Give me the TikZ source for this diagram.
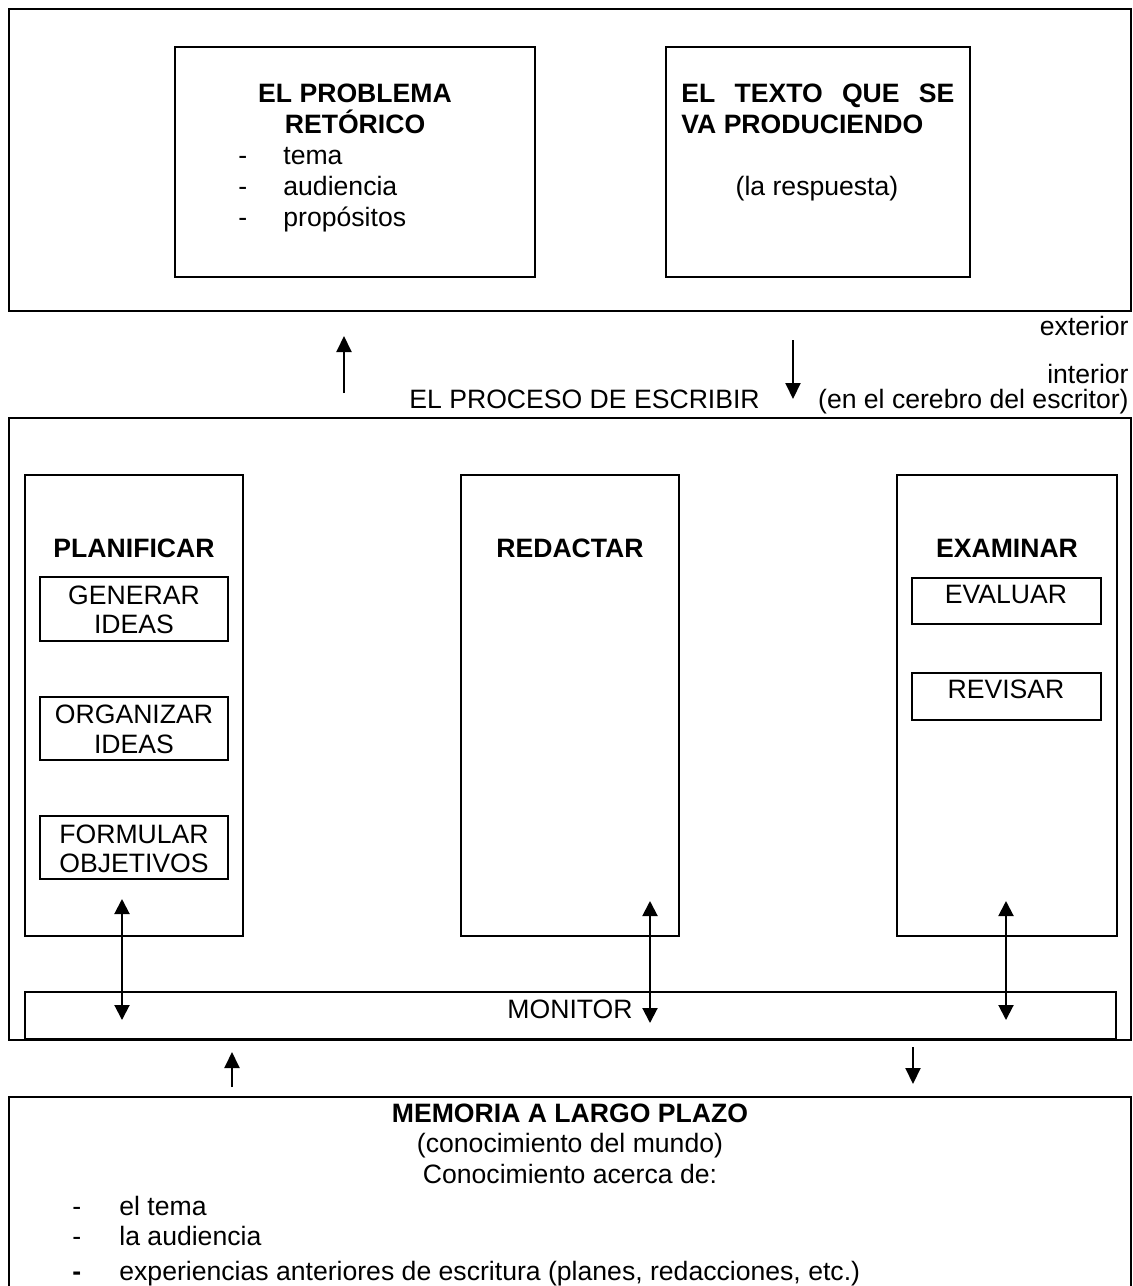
\documentclass[tikz,border=0pt]{standalone}
\usepackage{fontspec}
\setmainfont{Liberation Sans}
\usetikzlibrary{arrows.meta,fit}
\begin{document}
\begin{tikzpicture}[x=0.5pt,y=-0.5pt,
  box/.style={draw,line width=1pt,inner sep=0pt},
  obox/.style={draw,line width=1.2pt,inner sep=0pt},
  txt/.style={inner sep=0pt,anchor=base,font=\fontsize{13.3}{15.5}\selectfont},
  txtl/.style={txt,anchor=base west},
  txtr/.style={txt,anchor=base east},
  bold/.style={font=\fontsize{13.3}{15.5}\selectfont\bfseries},
  arr/.style={line width=1pt,-{Triangle[length=8pt,width=7.5pt]}},
  dbl/.style={line width=1pt,{Triangle[length=7.5pt,width=7.5pt]}-{Triangle[length=7.5pt,width=7.5pt]}}]
\useasboundingbox (0,0) rectangle (1133,1286);

% outer boxes
\node[obox,fit={(9,9) (1131,311)}] (exterior) {};
\node[obox,fit={(9,418) (1131,1040)}] (proceso) {};
\node[obox,fit={(9,1097) (1131,1320)}] (memoria) {};

% top inner boxes
\node[box,fit={(175,47) (535,277)}] (problema) {};
\node[box,fit={(666,47) (970,277)}] (texto) {};

\node[txt,bold] (p1) at (355,102) {EL PROBLEMA};
\node[txt,bold] (p2) at (355,133) {RETÓRICO};
\node[txtl] (pd1) at (238,164) {-};
\node[txtl] (pt1) at (283,164) {tema};
\node[txtl] (pd2) at (238,195) {-};
\node[txtl] (pt2) at (283,195) {audiencia};
\node[txtl] (pd3) at (238,226) {-};
\node[txtl] (pt3) at (283,226) {propósitos};

\node[txtl,bold] (x1) at (681,102) {\makebox[136.5pt][l]{EL\hfill TEXTO\hfill QUE\hfill SE}};
\node[txtl,bold] (x2) at (681,133) {VA PRODUCIENDO};
\node[txt] (x3) at (817,195) {(la respuesta)};

% labels between
\node[txtr] (lext) at (1129,335) {exterior};
\node[txtr] (lint) at (1129,383) {interior};
\node[txtr] (lcer) at (1129,408) {(en el cerebro del escritor)};
\node[txtl] (lproc) at (409,408) {EL PROCESO DE ESCRIBIR};

% arrows between top and middle
\coordinate (a1s) at (344,393);
\coordinate (a1e) at (344,336);
\coordinate (a2s) at (793,340);
\coordinate (a2e) at (793,399);
\draw[arr] (a1s) -- (a1e);
\draw[arr] (a2s) -- (a2e);

% columns
\node[box,fit={(25,475) (243,936)}] (planificar) {};
\node[box,fit={(461,475) (679,936)}] (redactar) {};
\node[box,fit={(897,475) (1117,936)}] (examinar) {};

\node[txt,bold] (tplan) at (134,557) {PLANIFICAR};
\node[txt,bold] (tred) at (570,557) {REDACTAR};
\node[txt,bold] (texa) at (1007,557) {EXAMINAR};

\node[box,fit={(40,577) (228,641)}] (generar) {};
\node[box,fit={(40,697) (228,760)}] (organizar) {};
\node[box,fit={(40,816) (228,879)}] (formular) {};
\node[txt] (g1) at (134,604) {GENERAR};
\node[txt] (g2) at (134,633) {IDEAS};
\node[txt] (o1) at (134,723) {ORGANIZAR};
\node[txt] (o2) at (134,753) {IDEAS};
\node[txt] (f1) at (134,843) {FORMULAR};
\node[txt] (f2) at (134,872) {OBJETIVOS};

\node[box,fit={(912,578) (1101,624)}] (evaluar) {};
\node[box,fit={(912,673) (1101,720)}] (revisar) {};
\node[txt] (e1) at (1006,603) {EVALUAR};
\node[txt] (r1) at (1006,698) {REVISAR};

% monitor
\node[box,fit={(25,992) (1116,1039)}] (monitor) {};
\node[txt] (tmon) at (570,1018) {MONITOR};

% double arrows
\coordinate (d1a) at (122,899);
\coordinate (d1b) at (122,1020);
\coordinate (d2a) at (650,901);
\coordinate (d2b) at (650,1023);
\coordinate (d3a) at (1006,901);
\coordinate (d3b) at (1006,1020);
\draw[dbl] (d1a) -- (d1b);
\draw[dbl] (d2a) -- (d2b);
\draw[dbl] (d3a) -- (d3b);

% arrows between middle and memory
\coordinate (b1s) at (232,1087);
\coordinate (b1e) at (232,1052);
\coordinate (b2s) at (913,1047);
\coordinate (b2e) at (913,1084);
\draw[arr] (b1s) -- (b1e);
\draw[arr] (b2s) -- (b2e);

% memory texts
\node[txt,bold] (m1) at (570,1122) {MEMORIA A LARGO PLAZO};
\node[txt] (m2) at (570,1152) {(conocimiento del mundo)};
\node[txt] (m3) at (570,1183) {Conocimiento acerca de:};
\node[txtl] (md1) at (72,1215) {-};
\node[txtl] (mt1) at (119,1215) {el tema};
\node[txtl] (md2) at (72,1245) {-};
\node[txtl] (mt2) at (119,1245) {la audiencia};
\node[txtl,bold] (md3) at (72,1280) {-};
\node[txtl] (mt3) at (119,1280) {experiencias anteriores de escritura (planes, redacciones, etc.)};
\end{tikzpicture}
\end{document}
